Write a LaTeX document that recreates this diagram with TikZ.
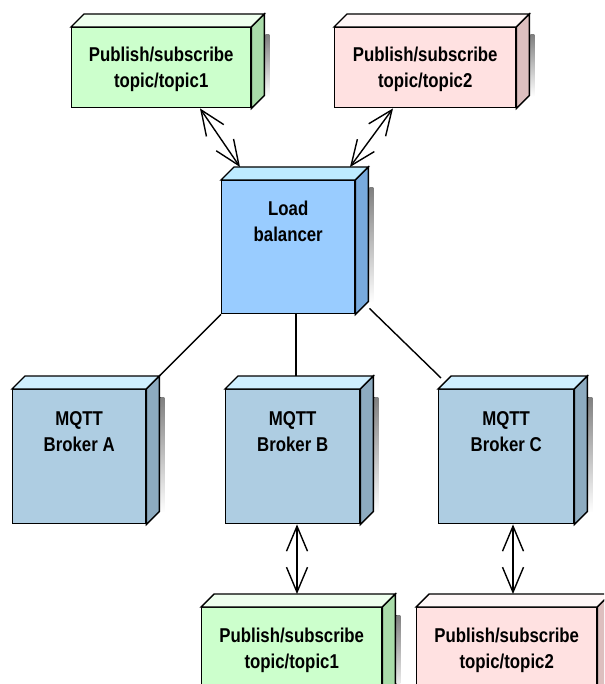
\documentclass[tikz,border=0pt]{standalone}
\usepackage{fontspec}
\newfontfamily\boxfont{Liberation Sans}[FakeStretch=0.84]
\usetikzlibrary{arrows.meta,calc}

% face colours of the boxes
\definecolor{grnfront}{HTML}{CCFFCC}
\definecolor{grntop}{HTML}{EEFFEE}
\definecolor{grnside}{HTML}{A9DCA9}
\definecolor{pnkfront}{HTML}{FFE1E1}
\definecolor{pnktop}{HTML}{FFF7F7}
\definecolor{pnkside}{HTML}{DDBFBF}
\definecolor{lbfront}{HTML}{99CCFF}
\definecolor{lbtop}{HTML}{BDEBFF}
\definecolor{lbside}{HTML}{78AADD}
\definecolor{brkfront}{HTML}{AECDE2}
\definecolor{brktop}{HTML}{CFEFFF}
\definecolor{brkside}{HTML}{8DABC0}
\definecolor{shade}{HTML}{EEEEEE}

\tikzset{
  face/.style={draw=black, line width=1.4pt, line join=miter, rectangle,
    inner sep=0pt, anchor=north west},
  edge3d/.style={draw=black, line width=1.4pt, line join=miter},
  boxtext/.style={font=\boxfont\bfseries\fontsize{20}{26}\selectfont,
    align=center, anchor=base, inner sep=0pt},
  link/.style={draw=black, line width=1.4pt},
  biarrow/.style={draw=black, line width=1.4pt,
    {Straight Barb[length=25pt,width=21pt,line width=1.4pt]}-{Straight Barb[length=25pt,width=21pt,line width=1.4pt]}},
}

% draws the shadow, top face and side face of a box node
% #1 node name, #2 top colour, #3 side colour
\newcommand\boxdepth[3]{%
  \fill[shade] ([shift={(14pt,-8pt)}]#1.north east) rectangle ([shift={(18pt,12pt)}]#1.south east);
  \filldraw[edge3d, fill=#2] (#1.north west) -- ([shift={(13pt,13pt)}]#1.north west)
     -- ([shift={(13pt,13pt)}]#1.north east) -- (#1.north east) -- cycle;
  \filldraw[edge3d, fill=#3] (#1.north east) -- ([shift={(13pt,13pt)}]#1.north east)
     -- ([shift={(13pt,13pt)}]#1.south east) -- (#1.south east) -- cycle;
}

\begin{document}
\begin{tikzpicture}[x=1pt, y=-1pt]
\useasboundingbox (0,0) rectangle (604,684);
\clip (0,0) rectangle (604,684);

% topic boxes at the top
\node[face, fill=grnfront, minimum width=179pt, minimum height=80pt] (gt) at (71,27) {};
\boxdepth{gt}{grntop}{grnside}
\node[boxtext] (gttext) at ([yshift=-61pt]gt.north) {Publish/subscribe\\topic/topic1};

\node[face, fill=pnkfront, minimum width=181pt, minimum height=80pt] (pt) at (334,27) {};
\boxdepth{pt}{pnktop}{pnkside}
\node[boxtext] (pttext) at ([yshift=-61pt]pt.north) {Publish/subscribe\\topic/topic2};

% load balancer
\node[face, fill=lbfront, minimum width=133pt, minimum height=133pt] (lb) at (221,180) {};
\boxdepth{lb}{lbtop}{lbside}
\node[boxtext] (lbtext) at ([yshift=-62pt]lb.north) {Load\\balancer};

% brokers
\node[face, fill=brkfront, minimum width=133pt, minimum height=134pt] (ba) at (12,389) {};
\boxdepth{ba}{brktop}{brkside}
\node[boxtext] (batext) at ([yshift=-62pt]ba.north) {MQTT\\Broker A};

\node[face, fill=brkfront, minimum width=134pt, minimum height=134pt] (bb) at (225,389) {};
\boxdepth{bb}{brktop}{brkside}
\node[boxtext] (bbtext) at ([yshift=-62pt]bb.north) {MQTT\\Broker B};

\node[face, fill=brkfront, minimum width=135pt, minimum height=134pt] (bc) at (438,389) {};
\boxdepth{bc}{brktop}{brkside}
\node[boxtext] (bctext) at ([yshift=-62pt]bc.north) {MQTT\\Broker C};

% topic boxes at the bottom
\node[face, fill=grnfront, minimum width=180pt, minimum height=100pt] (gb) at (201,607) {};
\boxdepth{gb}{grntop}{grnside}
\node[boxtext] (gbtext) at ([yshift=-61pt]gb.north) {Publish/subscribe\\topic/topic1};

\node[face, fill=pnkfront, minimum width=180pt, minimum height=100pt] (pb) at (416,607) {};
\boxdepth{pb}{pnktop}{pnkside}
\node[boxtext] (pbtext) at ([yshift=-61pt]pb.north) {Publish/subscribe\\topic/topic2};

% connectors
\draw[biarrow] ([xshift=129pt]gt.south west) -- ([shift={(19pt,13pt)}]lb.north west);
\draw[biarrow] ([xshift=59pt]pt.south west) -- ([shift={(129pt,13pt)}]lb.north west);

\draw[link] (lb.south west) -- ([shift={(13pt,13pt)}]ba.north east);
\draw[link] ([xshift=75pt]lb.south west) -- ([shift={(71pt,13pt)}]bb.north west);
\draw[link] ([shift={(14pt,6pt)}]lb.south east) -- ([shift={(3pt,11pt)}]bc.north west);

\draw[biarrow] ([xshift=72pt]bb.south west) -- ([shift={(96pt,13pt)}]gb.north west);
\draw[biarrow] ([xshift=75pt]bc.south west) -- ([shift={(97pt,13pt)}]pb.north west);
\end{tikzpicture}
\end{document}
